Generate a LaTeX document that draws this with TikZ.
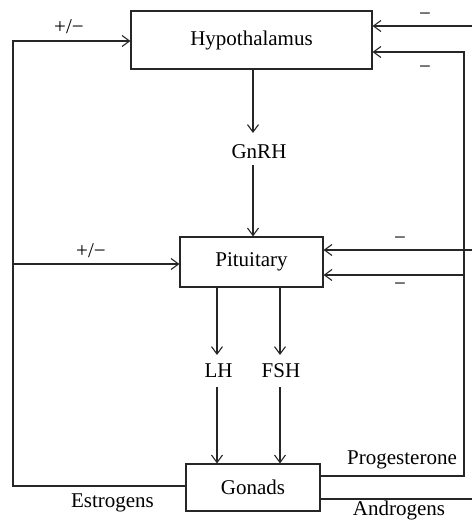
\documentclass[tikz,border=0pt]{standalone}
\usepackage{fontspec}
\setmainfont{Liberation Serif}
\usetikzlibrary{arrows.meta}
\begin{document}
\begin{tikzpicture}[x=1pt,y=-1pt,
  box/.style={draw=black!85,line width=1.1pt,rectangle,inner sep=0pt,font=\fontsize{21}{25}\selectfont},
  lbl/.style={inner sep=0pt,anchor=base,font=\fontsize{21}{25}\selectfont},
  conn/.style={draw=black!85,line width=1.1pt},
  arr/.style={conn,-{Straight Barb[length=7.5pt,width=11pt]}}]
\useasboundingbox (0,0) rectangle (472,520);
% boxes
\node[box,minimum width=241pt,minimum height=58pt] (hyp) at (251.5,40) {Hypothalamus};
\node[box,minimum width=143pt,minimum height=50pt] (pit) at (251.5,262) {Pituitary};
\node[box,minimum width=134pt,minimum height=47pt] (gon) at (253,487.5) {Gonads};
% hormone labels
\node[lbl] (gnrh) at (259,158) {GnRH};
\node[lbl] (lh) at (218.5,377) {LH};
\node[lbl] (fsh) at (281,377) {FSH};
\node[lbl] (prog) at (402,464) {Progesterone};
\node[lbl] (estr) at (112.5,507) {Estrogens};
\node[lbl] (andr) at (399,515) {Androgens};
% sign labels
\node[lbl] (s1) at (69,33) {+/−};
\node[lbl] (s2) at (91,257) {+/−};
\node[lbl] (m1) at (425,20) {−};
\node[lbl] (m2) at (425,73) {−};
\node[lbl] (m3) at (400,244) {−};
\node[lbl] (m4) at (400,290) {−};
% coordinates
\coordinate (gt) at (253,133);
\coordinate (gb) at (253,165);
\coordinate (lt) at (217,355);
\coordinate (lb) at (217,387);
\coordinate (ft) at (280,355);
\coordinate (fb) at (280,387);
\coordinate (lefttop) at (13,41);
\coordinate (leftmid) at (13,264);
\coordinate (estro) at (186,486);
\coordinate (progo) at (320,476);
\coordinate (andro) at (320,499);
\coordinate (rv) at (464,52);
\coordinate (rvb) at (464,476);
\coordinate (rpit) at (464,275);
\coordinate (edge1) at (472,26);
\coordinate (edge2) at (472,250);
\coordinate (edge3) at (472,499);
% main axis
\draw[arr] (hyp.south -| gt) -- (gt);
\draw[arr] (gb) -- (pit.north -| gb);
\draw[arr] (pit.south -| lt) -- (lt);
\draw[arr] (pit.south -| ft) -- (ft);
\draw[arr] (lb) -- (gon.north -| lb);
\draw[arr] (fb) -- (gon.north -| fb);
% estrogens loop
\draw[arr] (estro) -| (lefttop) -- (hyp.west |- lefttop);
\draw[arr] (leftmid) -- (pit.west |- leftmid);
% progesterone loop
\draw[arr] (progo) -- (rvb) -- (rv) -- (hyp.east |- rv);
\draw[arr] (rpit) -- (pit.east |- rpit);
% external inputs
\draw[arr] (edge1) -- (hyp.east |- edge1);
\draw[arr] (edge2) -- (pit.east |- edge2);
% androgens
\draw[conn] (andro) -- (edge3);
\end{tikzpicture}
\end{document}
